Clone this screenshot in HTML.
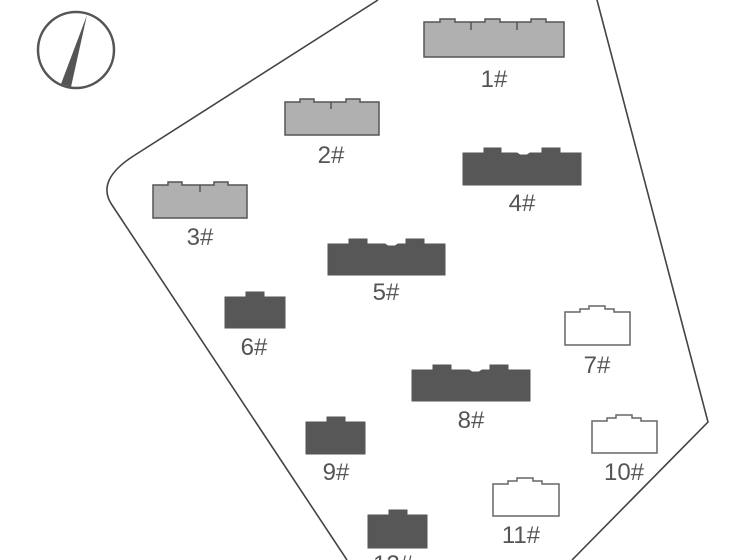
<!DOCTYPE html>
<html><head><meta charset="utf-8"><style>
html,body{margin:0;padding:0;background:#fff;}
svg{display:block;}
text{font-family:"Liberation Sans",sans-serif;font-size:24px;fill:#555;text-anchor:middle;}
</style></head><body>
<svg width="750" height="560" viewBox="0 0 750 560" xmlns="http://www.w3.org/2000/svg">
<!-- site boundary -->
<path d="M378,0 L135,155 Q95,180 112,205 L347,560" fill="none" stroke="#444" stroke-width="1.6"/>
<path d="M597,0 L708,422 L572,560" fill="none" stroke="#444" stroke-width="1.6"/>
<!-- compass -->
<circle cx="76" cy="50" r="38" fill="none" stroke="#555" stroke-width="2.5"/>
<polygon points="87,15 61,84 71,87" fill="#555"/>
<!-- gray buildings -->
<g fill="#b0b0b0" stroke="#555" stroke-width="1.5">
<path d="M424,57 V22 H440 V19 H455 V22 H485 V19 H500 V22 H531 V19 H546 V22 H564 V57 Z"/>
<path d="M285,135 V102 H300 V99 H314 V102 H346 V99 H360 V102 H379 V135 Z"/>
<path d="M153,218 V185 H168 V182 H182 V185 H214 V182 H228 V185 H247 V218 Z"/>
</g>
<g stroke="#555" stroke-width="1.5">
<path d="M471,22 V30 M517,22 V30 M331,102 V109 M200,185 V192"/>
</g>
<!-- dark buildings -->
<g fill="#575757" stroke="#555" stroke-width="1">
<path d="M463,185 V153 H484 V148 H501 V153 H517 L520,155 H527 L530,153 H542 V148 H560 V153 H581 V185 Z"/>
<path d="M328,275 V244 H349 V239 H367 V244 H385 L388,246 H395 L398,244 H406 V239 H424 V244 H445 V275 Z"/>
<path d="M225,328 V297 H246 V292 H264 V297 H285 V328 Z"/>
<path d="M412,401 V370 H433 V365 H451 V370 H469 L472,372 H479 L482,370 H490 V365 H508 V370 H530 V401 Z"/>
<path d="M306,454 V422 H327 V417 H345 V422 H365 V454 Z"/>
<path d="M368,548 V515 H389 V510 H407 V515 H427 V548 Z"/>
</g>
<!-- white buildings -->
<g fill="#fff" stroke="#666" stroke-width="1.5">
<path d="M565,345 V312 H580 V309 H589 V306 H605 V309 H614 V312 H630 V345 Z"/>
<path d="M592,453 V421 H607 V418 H616 V415 H632 V418 H641 V421 H657 V453 Z"/>
<path d="M493,516 V484 H508 V481 H517 V478 H533 V481 H542 V484 H559 V516 Z"/>
</g>
<!-- labels -->
<text x="494" y="87">1#</text>
<text x="331" y="163">2#</text>
<text x="200" y="245">3#</text>
<text x="522" y="211">4#</text>
<text x="386" y="300">5#</text>
<text x="254" y="355">6#</text>
<text x="597" y="373">7#</text>
<text x="471" y="428">8#</text>
<text x="336" y="480">9#</text>
<text x="624" y="480">10#</text>
<text x="521" y="543">11#</text>
<text x="393" y="572">12#</text>
</svg>
</body></html>
